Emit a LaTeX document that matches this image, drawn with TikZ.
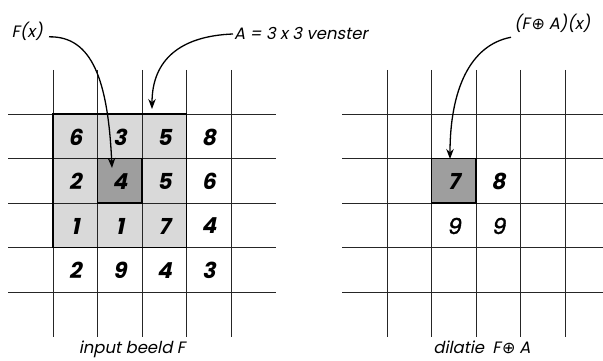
\documentclass[tikz,border=0pt]{standalone}
\usepackage{fontspec}
\setmainfont{Poppins}[FakeSlant=0.2,BoldFeatures={FakeSlant=0.2}]
\newfontfamily\popmed{Poppins}[FakeSlant=0.2,FakeBold=1.6]
\newfontfamily\symf{DejaVu Sans}[FakeSlant=0.1]
\newcommand{\opl}{\kern1pt{\symf\fontsize{16}{16}\selectfont ⊕}}
\usetikzlibrary{arrows.meta}
\begin{document}
\begin{tikzpicture}[x=1pt,y=-1pt,
  gridline/.style={line width=0.8pt,black!85},
  thickbox/.style={line width=1.6pt,black},
  lightcell/.style={fill=black!15},
  darkcell/.style={fill=black!38},
  num/.style={font=\fontsize{22}{22}\selectfont\bfseries,inner sep=0pt,anchor=center},
  numlight/.style={font=\fontsize{22}{22}\selectfont\popmed,inner sep=0pt,anchor=center},
  lbl/.style={font=\fontsize{16.5}{16.5}\selectfont,inner sep=1pt},
  arr/.style={line width=1.3pt,-{Stealth[length=10pt,width=7.5pt]}}]
\useasboundingbox (0,0) rectangle (603,361);
% ---- left grid ----
\fill[lightcell] (53,114) rectangle (186.5,247.5);
\fill[darkcell] (97.5,158.5) rectangle (142,203);
\foreach \x in {53,97.5,142,186.5,231} \draw[gridline] (\x,70) -- (\x,337);
\foreach \y in {114,158.5,203,247.5,292} \draw[gridline] (8,\y) -- (276,\y);
\draw[thickbox] (53,114) rectangle (186.5,247.5);
\draw[thickbox] (97.5,158.5) rectangle (142,203);
% numbers left
\node[num] (l11) at (75.2,137) {6};
\node[num] (l12) at (119.7,137) {3};
\node[num] (l13) at (164.2,137) {5};
\node[num] (l14) at (208.7,137) {8};
\node[num] (l21) at (75.2,181.5) {2};
\node[num] (l22) at (119.7,181.5) {4};
\node[num] (l23) at (164.2,181.5) {5};
\node[num] (l24) at (208.7,181.5) {6};
\node[num] (l31) at (75.2,226) {1};
\node[num] (l32) at (119.7,226) {1};
\node[num] (l33) at (164.2,226) {7};
\node[num] (l34) at (208.7,226) {4};
\node[num] (l41) at (75.2,270.5) {2};
\node[num] (l42) at (119.7,270.5) {9};
\node[num] (l43) at (164.2,270.5) {4};
\node[num] (l44) at (208.7,270.5) {3};
% ---- right grid ----
\fill[darkcell] (431.5,158.5) rectangle (476,203);
\foreach \x in {387,431.5,476,520.5,565} \draw[gridline] (\x,70) -- (\x,337);
\foreach \y in {114,158.5,203,247.5,292} \draw[gridline] (342,\y) -- (603,\y);
\draw[thickbox] (431.5,158.5) rectangle (476,203);
\node[num] (r22) at (453.7,181.5) {7};
\node[num] (r23) at (498.2,181.5) {8};
\node[numlight] (r32) at (453.7,226) {9};
\node[numlight] (r33) at (498.2,226) {9};
% ---- labels ----
\node[lbl,anchor=base east] (fx) at (44,38) {F(x)};
\node[lbl,anchor=base west] (win) at (233,40) {A = 3 x 3 venster};
\node[lbl,anchor=base west] (dil) at (513,30) {(F\opl\ A)(x)};
\node[lbl,anchor=base] (capl) at (132,353) {input beeld F};
\node[lbl,anchor=base] (capr) at (482,353) {dilatie\enspace F\opl\ A};
% ---- arrows ----
\coordinate (tipl) at (112,168);
\coordinate (tipw) at (152,109);
\coordinate (tipr) at (450,159);
\draw[arr] (fx.east)+(5,5) .. controls (92,36) and (108,80) .. (tipl);
\draw[arr] (win.west) .. controls (180,36) and (152,60) .. (tipw);
\draw[arr] (dil.south west)+(-2,3) .. controls (470,45) and (450,90) .. (tipr);
\end{tikzpicture}
\end{document}
